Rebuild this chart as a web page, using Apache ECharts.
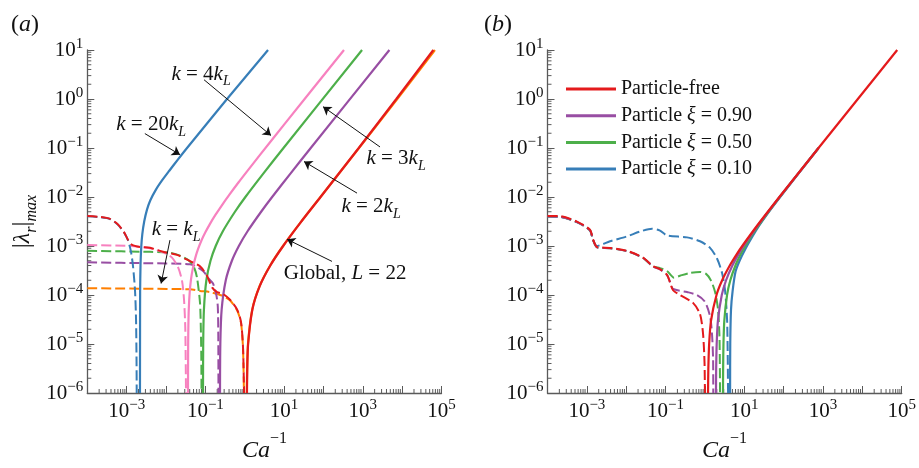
<!DOCTYPE html>
<html>
<head>
<meta charset="utf-8">
<script src="https://cdn.jsdelivr.net/npm/echarts@6/dist/echarts.min.js"></script>
<style>
html, body { margin: 0; padding: 0; background: #ffffff; }
#chart { width: 919px; height: 468px; }
</style>
</head>
<body>
<div id="chart"></div>
<script>
// ---------- panel (a): |lambda_r|max against Ca^-1 for single wavenumbers ----------
// solid = unstable branch, dashed = stable branch; points are [Ca^-1, |lambda_r|max]
const aK20Solid = [[2.18e-3,1e-6],[2.19e-3,2e-5],[2.2e-3,1.2e-4],[2.25e-3,4e-4],[2.35e-3,9.6e-4],[2.5e-3,1.75e-3],[2.8e-3,3.2e-3],[3.3e-3,5.6e-3],[4e-3,8.6e-3],[5.5e-3,1.4e-2],[8e-3,2.2e-2],[0.012,0.034],[0.02,0.058],[0.0342,0.1],[0.355,1],[3.91,10]];
const aK4Solid  = [[0.0362,1e-6],[0.0365,9e-6],[0.037,2.4e-5],[0.038,5.4e-5],[0.040,1.14e-4],[0.043,2.04e-4],[0.048,3.5e-4],[0.055,5.6e-4],[0.065,8.6e-4],[0.08,1.31e-3],[0.1,1.9e-3],[0.13,2.8e-3],[0.18,4.3e-3],[0.26,6.7e-3],[0.4,1.09e-2],[0.7,0.02],[1.2,0.035],[2.5,0.074],[10,0.3],[333,10]];
const aK3Solid  = [[0.0871,1e-6],[0.0881,1e-5],[0.0919,5e-5],[0.106,2e-4],[0.135,5e-4],[0.183,1e-3],[0.278,2e-3],[0.565,5e-3],[1.04,0.01],[2.96,0.03],[9.66,0.1],[957,10]];
const aK2Solid  = [[0.2355,1e-6],[0.240,1e-5],[0.259,5e-5],[0.330,2e-4],[0.472,5e-4],[0.709,1e-3],[1.18,2e-3],[2.61,5e-3],[4.97,0.01],[14.5,0.03],[47.6,0.1],[4740,10]];
const aK1Solid  = [[1.13,1e-6],[1.15,3e-6],[1.21,1e-5],[1.55,5e-5],[2.37,1.5e-4],[4.43,4e-4],[9.4,1e-3],[26,3e-3],[84,1e-2],[800,0.1],[7500,1],[68000,10]];
const aGlobalSolid = [[1.14,1e-6],[1.16,3e-6],[1.22,1e-5],[1.56,5e-5],[2.39,1.5e-4],[4.47,4e-4],[9.47,1e-3],[26.1,3e-3],[84.5,1e-2],[790,0.1],[7100,1],[62000,10]];

const aK20Dashed = [[1e-4,4.05e-3],[2.1e-4,3.87e-3],[3.78e-4,3.54e-3],[6.03e-4,2.7e-3],[8.57e-4,1.88e-3],[1.08e-3,1.31e-3],[1.29e-3,7.6e-4],[1.45e-3,3.87e-4],[1.63e-3,1.25e-4],[1.73e-3,3.24e-5],[1.78e-3,5.3e-6],[1.8e-3,1e-6]];
const aK4Dashed  = [[1e-4,1.05e-3],[1.22e-3,1.0e-3],[3.92e-3,9.0e-4],[8.4e-3,7.4e-4],[0.0142,5.8e-4],[0.0202,3.7e-4],[0.0255,1.97e-4],[0.0287,8.0e-5],[0.0309,2.06e-5],[0.0322,1e-6]];
const aK3Dashed  = [[1e-4,7.97e-4],[3.92e-3,7.6e-4],[0.0126,7.3e-4],[0.0227,6.37e-4],[0.0407,4.85e-4],[0.052,3.6e-4],[0.0614,2.25e-4],[0.073,7.0e-5],[0.0768,2.0e-5],[0.0789,5.3e-6],[0.0798,1e-6]];
const aK2Dashed  = [[1e-4,4.64e-4],[3.92e-3,4.44e-4],[0.0407,4.24e-4],[0.0871,3.09e-4],[0.125,2.1e-4],[0.156,1.72e-4],[0.19,1.0e-4],[0.207,5.8e-5],[0.213,1.5e-5],[0.215,1e-6]];
const aK1Dashed  = [[1e-4,1.37e-4],[0.0407,1.31e-4],[0.0731,1.21e-4],[0.131,1.15e-4],[0.2355,1.0e-4],[0.281,9.6e-5],[0.423,7.8e-5],[0.637,4.9e-5],[0.805,2.7e-5],[0.906,8.0e-6],[0.955,1e-6]];
const aGlobalDashed = [[1e-4,4.1e-3],[2.1e-4,3.92e-3],[3.78e-4,3.58e-3],[6.03e-4,2.74e-3],[8.57e-4,1.92e-3],[1.08e-3,1.34e-3],[1.37e-3,1.05e-3],[2.18e-3,9.55e-4],[3.92e-3,9.2e-4],[8.4e-3,7.6e-4],[0.019,6.6e-4],[0.0407,4.9e-4],[0.0731,3.87e-4],[0.11,2.47e-4],[0.148,1.43e-4],[0.198,1.15e-4],[0.281,1.05e-4],[0.423,8.0e-5],[0.637,5.1e-5],[0.805,2.8e-5],[0.906,8.4e-6],[0.96,1e-6]];

// annotation labels of panel (a): [text, label x, label y, arrow tail x, tail y, head x, head y]
const aNotes = [
  ['{i|k}{r| = 20}{i|k}{sub|L}', 4.2e-3, 0.30, 2.9e-3, 0.197, 0.0227, 0.073],
  ['{i|k}{r| = 4}{i|k}{sub|L}', 0.0776, 3.2, 0.0925, 2.47, 4.66, 0.18],
  ['{i|k}{r| = 3}{i|k}{sub|L}', 7000, 0.0608, 2740, 0.105, 97.7, 0.697],
  ['{i|k}{r| = 2}{i|k}{sub|L}', 1620, 6.4e-3, 714, 0.012, 32.1, 0.053],
  ['{i|k}{r| = }{i|k}{sub|L}', 0.018, 2.15e-3, 0.0126, 1.32e-3, 7.5e-3, 1.72e-4],
  ['{r|Global, }{i|L}{r| = 22}', 355, 2.7e-4, 165, 4.85e-4, 11.9, 1.37e-3]
];

// ---------- panel (b): particle-laden cases ----------
const bFreeSolid = [[1.2,1e-6],[1.22,3e-6],[1.28,1e-5],[1.43,3e-5],[1.97,1e-4],[2.74,2e-4],[4.28,4e-4],[6.58,7e-4],[8.89,1e-3],[16.6,2e-3],[32,4e-3],[78.1,1e-2],[770,0.1],[7690,1],[76900,10]];
const bXi90Solid = [[1.91,1e-6],[1.93,3e-6],[1.99,1e-5],[2.14,3e-5],[2.68,1e-4],[3.45,2e-4],[4.99,4e-4],[7.29,7e-4],[9.6,1e-3],[17.3,2e-3],[32.7,4e-3],[78.8,1e-2],[770,0.1]];
const bXi50Solid = [[2.88,1e-6],[2.9,3e-6],[2.96,1e-5],[3.11,3e-5],[3.65,1e-4],[4.42,2e-4],[5.96,4e-4],[8.26,7e-4],[10.6,1e-3],[18.3,2e-3],[33.7,4e-3],[79.8,1e-2],[771,0.1]];
const bXi10Solid = [[4.36,1e-6],[4.4,1e-5],[4.6,5e-5],[5.05,1.2e-4],[6.0,3e-4],[7.6,5e-4],[10.9,9e-4],[16.4,1.6e-3],[23.8,2.6e-3],[38.3,4.5e-3],[81.5,1e-2],[772,0.1]];

const bFreeDashed = [[1e-4,4.11e-3],[2.08e-4,4.06e-3],[5.6e-4,3.15e-3],[1.2e-3,2.15e-3],[1.43e-3,1.37e-3],[1.81e-3,9.55e-4],[3.87e-3,9.15e-4],[0.0105,7.97e-4],[0.0267,5.8e-4],[0.048,3.87e-4],[0.0722,3.38e-4],[0.109,2.58e-4],[0.13,1.8e-4],[0.155,1.25e-4],[0.233,1.0e-4],[0.499,6.9e-5],[0.752,4.06e-5],[0.895,1.64e-5],[0.977,4.2e-6],[1.0,1e-6]];
const bXi90Dashed = [[1e-4,4.0e-3],[2.08e-4,3.95e-3],[5.6e-4,3.08e-3],[1.2e-3,2.08e-3],[1.43e-3,1.34e-3],[1.81e-3,9.4e-4],[3.87e-3,9.0e-4],[0.0105,7.85e-4],[0.0267,5.7e-4],[0.048,3.82e-4],[0.0722,3.33e-4],[0.109,2.54e-4],[0.13,1.85e-4],[0.155,1.33e-4],[0.351,1.15e-4],[0.63,1.0e-4],[1.0,7.3e-5],[1.35,3.7e-5],[1.51,1.64e-5],[1.61,5.3e-6],[1.63,1e-6]];
const bXi50Dashed = [[1e-4,4.0e-3],[2.08e-4,3.95e-3],[5.6e-4,3.08e-3],[1.2e-3,2.08e-3],[1.43e-3,1.34e-3],[1.81e-3,9.4e-4],[3.87e-3,9.0e-4],[0.0105,7.85e-4],[0.0267,5.7e-4],[0.048,3.82e-4],[0.0722,3.54e-4],[0.109,3.09e-4],[0.164,2.25e-4],[0.233,2.47e-4],[0.418,2.83e-4],[0.752,2.96e-4],[1.07,2.7e-4],[1.43,1.97e-4],[1.81,1.15e-4],[2.15,5.1e-5],[2.35,1.31e-5],[2.42,1e-6]];
const bXi10Dashed = [[1e-4,4.0e-3],[2.08e-4,3.95e-3],[5.6e-4,3.08e-3],[1.2e-3,2.08e-3],[1.43e-3,1.34e-3],[1.78e-3,1.0e-3],[3.87e-3,1.25e-3],[0.0105,1.57e-3],[0.0224,1.97e-3],[0.0453,2.25e-3],[0.0722,2.06e-3],[0.109,1.64e-3],[0.351,1.5e-3],[0.752,1.25e-3],[1.35,9.15e-4],[2.03,5.56e-4],[2.72,2.83e-4],[3.24,1.25e-4],[3.65,3.24e-5],[3.8,5.3e-6],[3.87,1e-6]];

const legendNames = ['Particle-free', 'Particle \u03be = 0.90', 'Particle \u03be = 0.50', 'Particle \u03be = 0.10'];

// axis ranges and labelled decades
const xRange = [1e-4, 1e5];
const yRange = [1e-6, 10];
const xLabelExponents = [-3, -1, 1, 3, 5];
const yLabelExponents = [-6, -5, -4, -3, -2, -1, 0, 1];

// ---------- styling ----------
const FONT = '"Liberation Serif", "Times New Roman", serif';
const INK = '#111111';
const AX = '#5a5a5a';
const COL = { red: '#e41a1c', blue: '#377eb8', green: '#4daf4a', purple: '#984ea3', orange: '#ff7f00', pink: '#f781bf' };

function powLabel(e) {
  return '{b|10}{s|' + (e < 0 ? '\u2212' + (-e) : String(e)) + '}';
}

const tickRich = {
  b: { fontFamily: FONT, fontSize: 21, lineHeight: 27, color: INK },
  s: { fontFamily: FONT, fontSize: 15, lineHeight: 17, verticalAlign: 'top', color: INK }
};
const xNameRich = {
  i: { fontFamily: FONT, fontSize: 24, fontStyle: 'italic', lineHeight: 40, color: INK },
  s: { fontFamily: FONT, fontSize: 16, lineHeight: 16, verticalAlign: 'top', color: INK }
};
const yNameRich = {
  bar: { fontFamily: FONT, fontSize: 25, lineHeight: 25, verticalAlign: 'top', color: INK },
  l: { fontFamily: FONT, fontSize: 24, fontStyle: 'italic', lineHeight: 25, verticalAlign: 'top', color: INK },
  sub: { fontFamily: FONT, fontSize: 16, fontStyle: 'italic', lineHeight: 29, verticalAlign: 'bottom', color: INK }
};
const noteRich = {
  r: { fontFamily: FONT, fontSize: 21, lineHeight: 21, verticalAlign: 'top', color: INK },
  i: { fontFamily: FONT, fontSize: 21, fontStyle: 'italic', lineHeight: 21, verticalAlign: 'top', color: INK },
  sub: { fontFamily: FONT, fontSize: 14, fontStyle: 'italic', lineHeight: 25, verticalAlign: 'bottom', color: INK }
};

const grids = [
  { left: 87.3, top: 50, width: 354.2, height: 357 },
  { left: 547.5, top: 50, width: 354.2, height: 357 }
];

function logX(g) {
  return {
    type: 'log', logBase: 10, gridIndex: g, min: xRange[0], max: xRange[1],
    axisLine: { show: true, onZero: false, lineStyle: { color: AX, width: 1.3 } },
    axisTick: { show: true, inside: true, length: 7, lineStyle: { color: AX, width: 1 } },
    axisLabel: {
      margin: 5,
      formatter: function (v) {
        const e = Math.round(Math.log10(v));
        return xLabelExponents.indexOf(e) >= 0 ? powLabel(e) : '';
      },
      rich: tickRich
    },
    splitLine: { show: false },
    name: '{i|Ca}{s|\u22121}', nameLocation: 'middle', nameGap: 38,
    nameTextStyle: { rich: xNameRich }
  };
}
function logY(g, withName) {
  const ax = {
    type: 'log', logBase: 10, gridIndex: g, min: yRange[0], max: yRange[1], position: 'left',
    axisLine: { show: true, onZero: false, lineStyle: { color: AX, width: 1.3 } },
    axisTick: { show: true, inside: true, length: 7, lineStyle: { color: AX, width: 1 } },
    axisLabel: {
      margin: 4,
      formatter: function (v) {
        const e = Math.round(Math.log10(v));
        return yLabelExponents.indexOf(e) >= 0 ? powLabel(e) : '';
      },
      rich: tickRich
    },
    splitLine: { show: false }
  };
  if (withName) {
    ax.name = '{bar||}{l|\u03bb}{sub|r}{bar||}{sub|max}';
    ax.nameLocation = 'middle';
    ax.nameGap = 48;
    ax.nameTextStyle = { rich: yNameRich };
  }
  return ax;
}

// short inward ticks at 2..9 x 10^n, placed through each panel's log scales
function minorTicks(axisIdx, dir) {
  const lo = dir === 'x' ? -4 : -6;
  const hi = dir === 'x' ? 5 : 1;
  const vals = [];
  for (let n = lo; n < hi; n++) for (let k = 2; k <= 9; k++) vals.push(k * Math.pow(10, n));
  return {
    type: 'custom', xAxisIndex: axisIdx, yAxisIndex: axisIdx,
    silent: true, animation: false, clip: false, z: 3,
    data: vals.map(function (v) { return dir === 'x' ? [v, yRange[0]] : [xRange[0], v]; }),
    encode: { x: 0, y: 1 },
    renderItem: function (params, api) {
      const p = api.coord([api.value(0), api.value(1)]);
      const shape = dir === 'x'
        ? { x1: p[0], y1: p[1], x2: p[0], y2: p[1] - 4 }
        : { x1: p[0], y1: p[1], x2: p[0] + 4, y2: p[1] };
      return { type: 'line', shape: shape, style: { stroke: AX, lineWidth: 1 } };
    }
  };
}

function curve(name, data, color, dashed, axisIdx) {
  return {
    type: 'line', name: name, data: data,
    xAxisIndex: axisIdx, yAxisIndex: axisIdx,
    showSymbol: false, symbol: 'none', smooth: 0.25,
    color: color, itemStyle: { color: color },
    lineStyle: { color: color, width: dashed ? 2 : 2.2, type: dashed ? [10, 4] : 'solid' },
    emphasis: { disabled: true }, silent: true, animation: false
  };
}

const globalA = curve('Global', aGlobalSolid, COL.red, false, 0);
globalA.markLine = {
  silent: true, animation: false,
  symbol: ['none', 'arrow'], symbolSize: 8,
  lineStyle: { color: INK, width: 1, type: 'solid' },
  label: { show: false }, emphasis: { disabled: true },
  data: aNotes.map(function (n) { return [{ coord: [n[3], n[4]] }, { coord: [n[5], n[6]] }]; })
};
globalA.markPoint = {
  silent: true, animation: false,
  symbol: 'circle', symbolSize: 1, itemStyle: { color: 'rgba(0,0,0,0)' },
  label: {
    show: true, position: 'inside', rich: noteRich,
    formatter: function (p) { return p.name; }
  },
  data: aNotes.map(function (n) {
    const hasSub = n[0].indexOf('{sub|') >= 0;
    return { name: n[0], coord: [n[1], n[2]], label: { offset: [0, hasSub ? 2 : 0] } };
  })
};

const series = [
  minorTicks(0, 'x'), minorTicks(0, 'y'), minorTicks(1, 'x'), minorTicks(1, 'y'),
  // panel (a)
  curve('k1 stable', aK1Dashed, COL.orange, true, 0),
  curve('k2 stable', aK2Dashed, COL.purple, true, 0),
  curve('k3 stable', aK3Dashed, COL.green, true, 0),
  curve('k4 stable', aK4Dashed, COL.pink, true, 0),
  curve('k20 stable', aK20Dashed, COL.blue, true, 0),
  curve('k1', aK1Solid, COL.orange, false, 0),
  curve('k20', aK20Solid, COL.blue, false, 0),
  curve('k4', aK4Solid, COL.pink, false, 0),
  curve('k3', aK3Solid, COL.green, false, 0),
  curve('k2', aK2Solid, COL.purple, false, 0),
  curve('Global stable', aGlobalDashed, COL.red, true, 0),
  globalA,
  // panel (b)
  curve('xi10 stable', bXi10Dashed, COL.blue, true, 1),
  curve('xi50 stable', bXi50Dashed, COL.green, true, 1),
  curve('xi90 stable', bXi90Dashed, COL.purple, true, 1),
  curve(legendNames[3], bXi10Solid, COL.blue, false, 1),
  curve(legendNames[2], bXi50Solid, COL.green, false, 1),
  curve(legendNames[1], bXi90Solid, COL.purple, false, 1),
  curve('free stable', bFreeDashed, COL.red, true, 1),
  curve(legendNames[0], bFreeSolid, COL.red, false, 1)
];

const option = {
  backgroundColor: '#ffffff',
  animation: false,
  title: [
    { text: '({i|a})', left: 6, top: 6, textStyle: { fontFamily: FONT, fontSize: 24, lineHeight: 28, fontWeight: 'normal', color: INK, rich: { i: { fontFamily: FONT, fontSize: 24, lineHeight: 28, fontStyle: 'italic', color: INK } } } },
    { text: '({i|b})', left: 479, top: 6, textStyle: { fontFamily: FONT, fontSize: 24, lineHeight: 28, fontWeight: 'normal', color: INK, rich: { i: { fontFamily: FONT, fontSize: 24, lineHeight: 28, fontStyle: 'italic', color: INK } } } }
  ],
  legend: {
    data: legendNames, orient: 'vertical', left: 561, top: 74,
    icon: 'rect', itemWidth: 50, itemHeight: 3, itemGap: 6.7,
    selectedMode: false,
    textStyle: { fontFamily: FONT, fontSize: 20, lineHeight: 20, color: INK,
      rich: { x: { fontFamily: FONT, fontSize: 20, lineHeight: 20, fontStyle: 'italic', color: INK } } },
    formatter: function (name) { return name.replace('\u03be', '{x|\u03be}'); }
  },
  grid: grids,
  xAxis: [logX(0), logX(1)],
  yAxis: [logY(0, true), logY(1, false)],
  series: series
};

const chart = echarts.init(document.getElementById('chart'), null, { renderer: 'canvas' });
chart.setOption(option);
</script>
</body>
</html>
